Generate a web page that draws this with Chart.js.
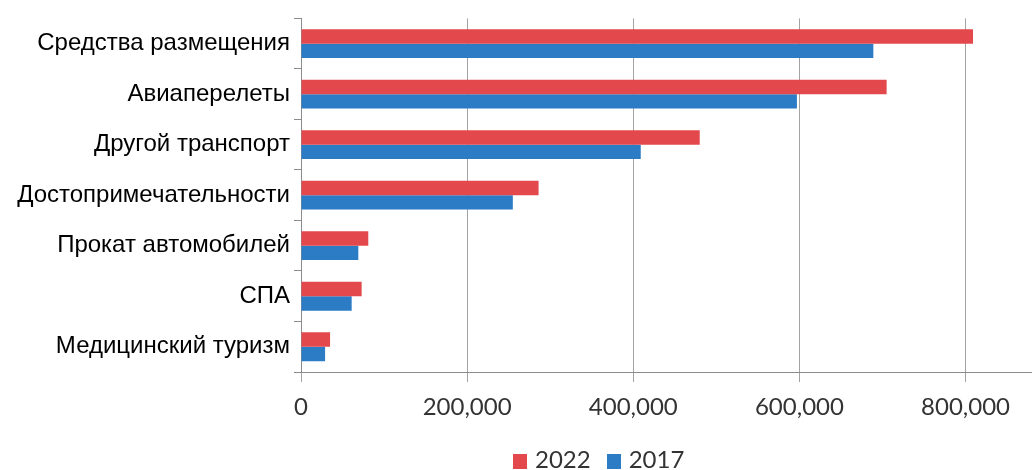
<!DOCTYPE html>
<html>
<head>
<meta charset="utf-8">
<script src="https://cdn.jsdelivr.net/npm/chart.js@4.4.1/dist/chart.umd.min.js"></script>
<style>
  body { margin: 0; background: #fff; }
  #wrap { position: relative; width: 1032px; height: 470px; }
  #legend { position: absolute; left: 513px; top: 444px; font: 24px Lato, sans-serif; color: #333; white-space: nowrap; }
  #legend span.box { display: inline-block; width: 14px; height: 15px; margin-right: 8px; vertical-align: -1px; }
  #legend span.item { margin-right: 16px; }
</style>
</head>
<body>
<div id="wrap">
  <canvas id="chart"></canvas>
  <div id="legend"></div>
</div>
<script>
// данные с картинки
const categories = ['Средства размещения', 'Авиаперелеты', 'Другой транспорт', 'Достопримечательности',
                    'Прокат автомобилей', 'СПА', 'Медицинский туризм'];
const values2022 = [809000, 705000, 480000, 286000, 81000, 73000, 35000];
const values2017 = [689000, 597000, 409000, 255000, 69000, 61000, 29000];
const seriesNames = ['2022', '2017'];
const tickValues = [0, 200000, 400000, 600000, 800000];

const colors = { red: '#e3484c', blue: '#2b7bc5', grid: '#a3a3a3', axis: '#8c8c8c' };

new Chart(document.getElementById('chart'), {
    type: 'bar',
    data: {
        labels: categories,
        datasets: [
            { label: seriesNames[0], data: values2022, backgroundColor: colors.red, borderWidth: 0 },
            { label: seriesNames[1], data: values2017, backgroundColor: colors.blue, borderWidth: 0 }
        ]
    },
    options: {
        indexAxis: 'y',
        responsive: true,
        maintainAspectRatio: false,
        animation: false,
        layout: { padding: { top: 15, right: 0, bottom: 0, left: 0 } },
        datasets: { bar: { categoryPercentage: 0.57, barPercentage: 1.0 } },
        plugins: { legend: { display: false }, tooltip: { enabled: false } },
        scales: {
            x: {
                min: 0,
                max: 880000,
                afterBuildTicks: s => { s.ticks = tickValues.map(v => ({ value: v })); },
                afterFit: s => { s.height = 98; },
                grid: { color: colors.grid, tickColor: colors.grid, tickLength: 10, lineWidth: 1 },
                border: { color: colors.axis },
                ticks: {
                    padding: 11,
                    color: '#333',
                    font: { family: 'Lato', size: 24 },
                    callback: v => v.toLocaleString('en-US')
                }
            },
            y: {
                afterFit: s => { s.width = 301; },
                grid: { drawOnChartArea: false, offset: true, tickLength: 7, tickColor: colors.axis },
                border: { color: colors.axis },
                ticks: {
                    padding: 4,
                    color: '#000',
                    font: { family: 'Liberation Sans', size: 24 }
                }
            }
        }
    }
});

// легенда под графиком
const legendColors = [colors.red, colors.blue];
document.getElementById('legend').innerHTML = seriesNames.map((n, i) =>
    '<span class="item"><span class="box" style="background:' + legendColors[i] + '"></span>' + n + '</span>'
).join('');
</script>
</body>
</html>
